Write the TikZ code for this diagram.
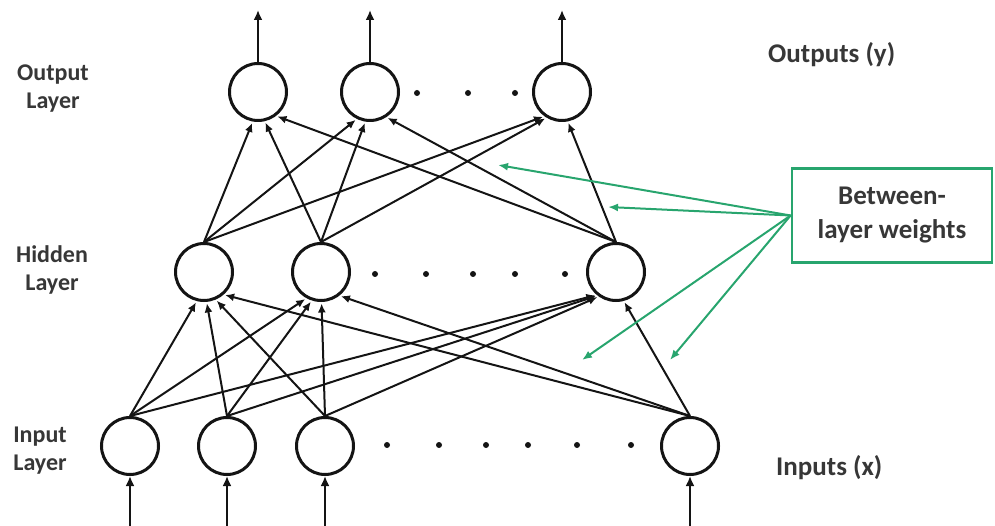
\documentclass[tikz,border=0pt]{standalone}
\usepackage{fontspec}
\setmainfont{Carlito}
\usetikzlibrary{arrows.meta,calc}
\definecolor{wgreen}{RGB}{40,165,110}
\definecolor{ink}{RGB}{20,20,20}
\definecolor{txt}{RGB}{55,55,55}
\tikzset{
  neuron/.style={circle,draw=ink,line width=3pt,minimum size=57pt,inner sep=0pt,fill=white},
  wire/.style={draw=ink,line width=2pt,-{Latex[length=9pt,width=8pt]},shorten >=1.5pt},
  io/.style={draw=ink,line width=2.6pt,-{Latex[length=10pt,width=9pt]}},
  gap/.style={circle,fill=ink,inner sep=0pt,minimum size=6pt},
  lbl/.style={text=txt,font=\bfseries\fontsize{24}{28}\selectfont,align=center,inner sep=0pt},
  biglbl/.style={lbl,font=\bfseries\fontsize{27}{32}\selectfont},
  pointer/.style={draw=wgreen,line width=2pt,-{Latex[length=10pt,width=8pt]}},
}
% connector from the top of one neuron to the lower rim of another
\newcommand\wire[2]{%
  \draw[wire] let \p1=($(#1.north)-(#2.center)$),
    \n1={atan2(\y1,\x1)}, \n2={-90+0.55*(\n1+90)} in (#1.north) -- (#2.\n2);}
\begin{document}
\begin{tikzpicture}[x=1pt,y=-1pt]
\useasboundingbox (0,0) rectangle (995,526);

% neurons
\node[neuron] (o1) at (258,92) {};
\node[neuron] (o2) at (370,92) {};
\node[neuron] (o3) at (562,92) {};
\node[neuron] (h1) at (204,272) {};
\node[neuron] (h2) at (321,272) {};
\node[neuron] (h3) at (616,272) {};
\node[neuron] (i1) at (130,446) {};
\node[neuron] (i2) at (227,446) {};
\node[neuron] (i3) at (325,446) {};
\node[neuron] (i4) at (690,446) {};

% weighted connections
\foreach \s in {i1,i2,i3,i4} \foreach \t in {h1,h2,h3} {\wire{\s}{\t}}
\foreach \s in {h1,h2,h3} \foreach \t in {o1,o2,o3} {\wire{\s}{\t}}

% outputs and inputs
\foreach \n in {o1,o2,o3} {
  \coordinate (\n top) at ($(\n.north)+(0,-52)$);
  \draw[io] (\n.north) -- (\n top);
}
\foreach \n in {i1,i2,i3,i4} {
  \coordinate (\n bot) at ($(\n.south)+(0,50)$);
  \draw[io] (\n bot) -- (\n.south);
}

% ellipsis dots
\foreach[count=\k] \x in {417,468,515} \node[gap] (od\k) at (\x,93) {};
\foreach[count=\k] \x in {375,426,473,515,565} \node[gap] (hd\k) at (\x,274) {};
\foreach[count=\k] \x in {387,439,486,528,577,631} \node[gap] (id\k) at (\x,445) {};

% layer names
\node[lbl] (lo) at (53,89) {Output\\Layer};
\node[lbl] (lh) at (52,270) {Hidden\\Layer};
\node[lbl] (li) at (40,451) {Input\\Layer};
\node[biglbl,anchor=west] (ly) at (768,55) {Outputs (y)};
\node[biglbl,anchor=west] (lx) at (776,468) {Inputs (x)};

% weights callout
\node[draw=wgreen,line width=2.8pt,minimum width=200pt,minimum height=94pt,
      biglbl] (box) at (892,215.5) {Between-\\[2pt]layer weights};
\coordinate (w1) at (498,165);
\coordinate (w2) at (608,207);
\coordinate (w3) at (582,360);
\coordinate (w4) at (670,360);
\foreach \w in {w1,w2,w3,w4} \draw[pointer] (box.west) -- (\w);
\end{tikzpicture}
\end{document}
